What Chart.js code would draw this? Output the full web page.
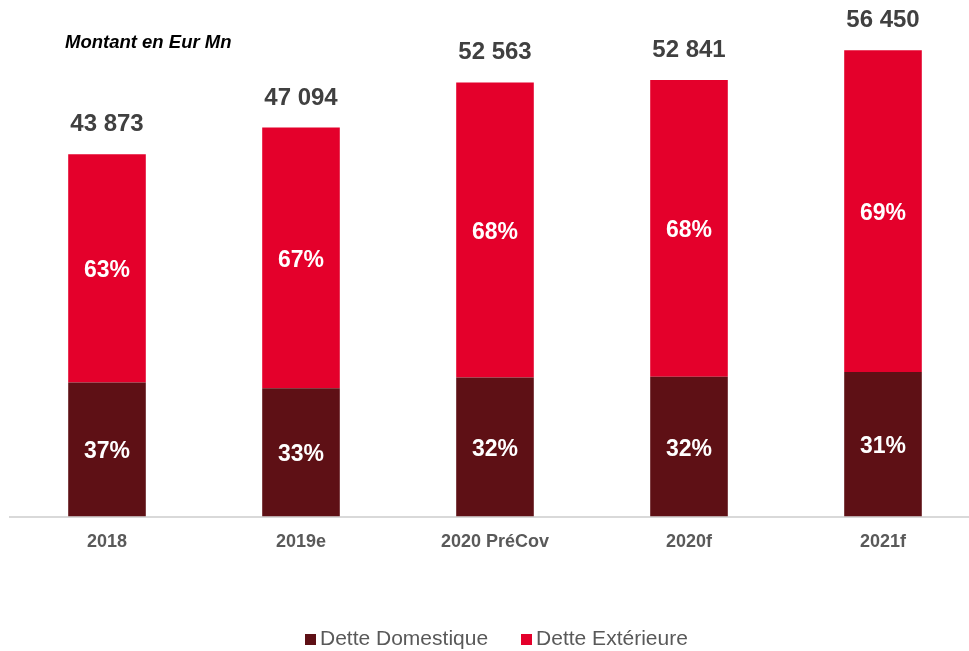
<!DOCTYPE html>
<html>
<head>
<meta charset="utf-8">
<script src="https://cdn.jsdelivr.net/npm/chart.js@4.4.0/dist/chart.umd.min.js"></script>
<style>
  html, body { margin: 0; padding: 0; background: #ffffff; overflow: hidden; }
  #wrap { position: relative; width: 969px; height: 651px; overflow: hidden; }
  #box { position: absolute; left: 0; top: 0; width: 980px; height: 651px; }
  #note { position: absolute; left: 65px; top: 32px; font: italic bold 18.5px/20px "Liberation Sans", Arial, sans-serif; color: #000; white-space: nowrap; }
  #legend { position: absolute; left: 305px; top: 626px; height: 24px; white-space: nowrap;
            font: 21px/24px "Liberation Sans", Arial, sans-serif; color: #595959; }
  #legend .item { display: inline-block; }
  #legend .item + .item { margin-left: 33px; }
  #legend .sw { display: inline-block; width: 11px; height: 11px; margin-right: 4px; vertical-align: baseline; }
</style>
</head>
<body>
<div id="wrap">
  <div id="box"><canvas id="c" width="980" height="651"></canvas></div>
  <div id="note">Montant en Eur Mn</div>
  <div id="legend"></div>
</div>
<script>
const categories = ["2018", "2019e", "2020 PréCov", "2020f", "2021f"];
const totals = [43873, 47094, 52563, 52841, 56450];
const domesticShare = [37, 33, 32, 32, 31];
const externalShare = [63, 67, 68, 68, 69];
const totalLabels = ["43 873", "47 094", "52 563", "52 841", "56 450"];
const seriesNames = ["Dette Domestique", "Dette Extérieure"];

const domesticValues = totals.map((t, i) => t * domesticShare[i] / 100);
const externalValues = totals.map((t, i) => t * externalShare[i] / 100);

const FONT = '"Liberation Sans", Arial, sans-serif';

const labelPlugin = {
  id: 'labels',
  afterDatasetsDraw(chart) {
    const ctx = chart.ctx;
    ctx.save();
    ctx.textAlign = 'center';
    ctx.textBaseline = 'alphabetic';
    const shares = [domesticShare, externalShare];
    chart.data.datasets.forEach((ds, di) => {
      const meta = chart.getDatasetMeta(di);
      meta.data.forEach((bar, i) => {
        const mid = (bar.y + bar.base) / 2;
        ctx.fillStyle = '#ffffff';
        ctx.font = 'bold 23px ' + FONT;
        ctx.fillText(shares[di][i] + '%', bar.x, mid + 9);
      });
    });
    const top = chart.getDatasetMeta(1);
    top.data.forEach((bar, i) => {
      ctx.fillStyle = '#404040';
      ctx.font = 'bold 24px ' + FONT;
      ctx.fillText(totalLabels[i], bar.x, bar.y - 23);
    });
    ctx.restore();
  }
};

const chart = new Chart(document.getElementById('c'), {
  type: 'bar',
  data: {
    labels: categories,
    datasets: [
      { label: seriesNames[0], data: domesticValues, backgroundColor: '#5E1015', borderWidth: 0 },
      { label: seriesNames[1], data: externalValues, backgroundColor: '#E4002B', borderWidth: 0 }
    ]
  },
  options: {
    responsive: false,
    animation: false,
    devicePixelRatio: 1,
    layout: { padding: { top: 21, left: 10, right: 0, bottom: 41.5 } },
    datasets: { bar: { categoryPercentage: 1.0, barPercentage: 0.40 } },
    scales: {
      x: {
        stacked: true,
        grid: { display: false, drawTicks: false },
        border: { display: true, color: '#d9d9d9', width: 2 },
        ticks: { color: '#595959', font: { family: FONT, size: 18, weight: 'bold' }, padding: 15 },
        afterFit(scale) { scale.height = 93; }
      },
      y: {
        stacked: true,
        display: false,
        min: 0,
        max: 60000
      }
    },
    plugins: {
      legend: { display: false },
      tooltip: { enabled: false }
    }
  },
  plugins: [labelPlugin]
});

// HTML legend built from the chart's datasets
const legendEl = document.getElementById('legend');
chart.data.datasets.forEach(ds => {
  const item = document.createElement('span');
  item.className = 'item';
  const sw = document.createElement('span');
  sw.className = 'sw';
  sw.style.background = ds.backgroundColor;
  item.appendChild(sw);
  item.appendChild(document.createTextNode(ds.label));
  legendEl.appendChild(item);
});
</script>
</body>
</html>
